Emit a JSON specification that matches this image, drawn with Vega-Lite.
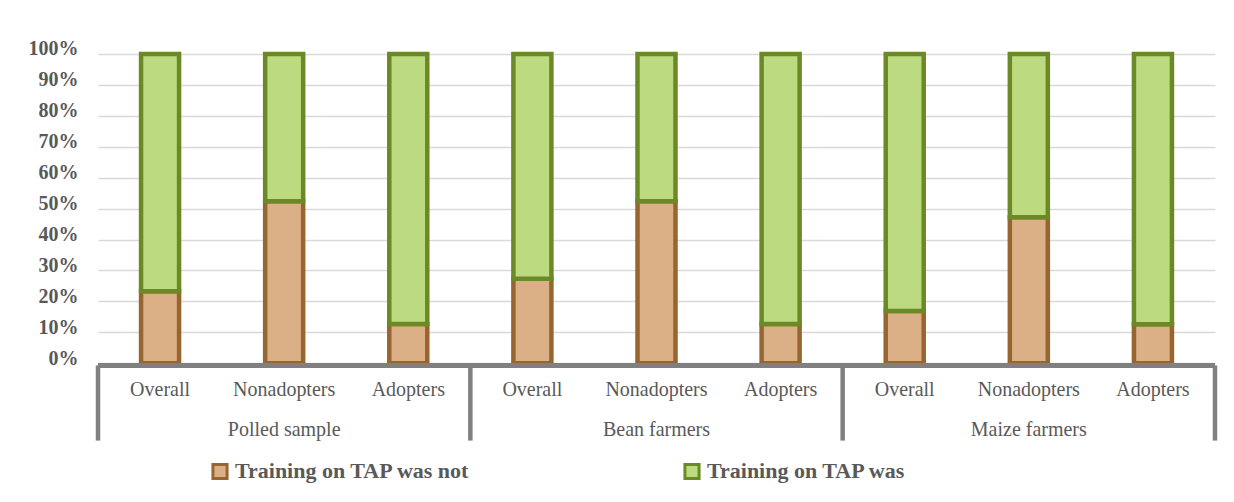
{
  "$schema": "https://vega.github.io/schema/vega-lite/v6.json",
  "width": 1117,
  "height": 386.6,
  "autosize": {"type": "none"},
  "padding": {"left": 98, "top": 54, "right": 19, "bottom": 61},
  "background": "white",
  "config": {"view": {"stroke": null}, "font": "Liberation Serif"},
  "datasets": {
    "bars": [
      {"cat": "P-Overall", "series": "Training on TAP was not", "ord": 0, "value": 0.233},
      {"cat": "P-Nonadopters", "series": "Training on TAP was not", "ord": 0, "value": 0.524},
      {"cat": "P-Adopters", "series": "Training on TAP was not", "ord": 0, "value": 0.127},
      {"cat": "B-Overall", "series": "Training on TAP was not", "ord": 0, "value": 0.273},
      {"cat": "B-Nonadopters", "series": "Training on TAP was not", "ord": 0, "value": 0.524},
      {"cat": "B-Adopters", "series": "Training on TAP was not", "ord": 0, "value": 0.127},
      {"cat": "M-Overall", "series": "Training on TAP was not", "ord": 0, "value": 0.169},
      {"cat": "M-Nonadopters", "series": "Training on TAP was not", "ord": 0, "value": 0.472},
      {"cat": "M-Adopters", "series": "Training on TAP was not", "ord": 0, "value": 0.126},
      {"cat": "P-Overall", "series": "Training on TAP was", "ord": 1, "value": 0.767},
      {"cat": "P-Nonadopters", "series": "Training on TAP was", "ord": 1, "value": 0.476},
      {"cat": "P-Adopters", "series": "Training on TAP was", "ord": 1, "value": 0.873},
      {"cat": "B-Overall", "series": "Training on TAP was", "ord": 1, "value": 0.727},
      {"cat": "B-Nonadopters", "series": "Training on TAP was", "ord": 1, "value": 0.476},
      {"cat": "B-Adopters", "series": "Training on TAP was", "ord": 1, "value": 0.873},
      {"cat": "M-Overall", "series": "Training on TAP was", "ord": 1, "value": 0.831},
      {"cat": "M-Nonadopters", "series": "Training on TAP was", "ord": 1, "value": 0.528},
      {"cat": "M-Adopters", "series": "Training on TAP was", "ord": 1, "value": 0.874}
    ],
    "cats": [
      {"cat": "P-Overall", "sub": "Overall"},
      {"cat": "P-Nonadopters", "sub": "Nonadopters"},
      {"cat": "P-Adopters", "sub": "Adopters"},
      {"cat": "B-Overall", "sub": "Overall"},
      {"cat": "B-Nonadopters", "sub": "Nonadopters"},
      {"cat": "B-Adopters", "sub": "Adopters"},
      {"cat": "M-Overall", "sub": "Overall"},
      {"cat": "M-Nonadopters", "sub": "Nonadopters"},
      {"cat": "M-Adopters", "sub": "Adopters"}
    ],
    "groups": [
      {"cat": "P-Nonadopters", "group": "Polled sample"},
      {"cat": "B-Nonadopters", "group": "Bean farmers"},
      {"cat": "M-Nonadopters", "group": "Maize farmers"}
    ],
    "sepsLeft": [
      {"cat": "P-Overall"},
      {"cat": "B-Overall"},
      {"cat": "M-Overall"}
    ],
    "sepsRight": [
      {"cat": "M-Adopters"}
    ]
  },
  "layer": [
    {
      "data": {"name": "bars"},
      "mark": {"type": "bar", "size": 38, "strokeWidth": 4.5},
      "encoding": {
        "x": {
          "field": "cat", "type": "nominal", "axis": null,
          "scale": {
            "domain": ["P-Overall", "P-Nonadopters", "P-Adopters", "B-Overall", "B-Nonadopters", "B-Adopters", "M-Overall", "M-Nonadopters", "M-Adopters"],
            "paddingInner": 0, "paddingOuter": 0
          }
        },
        "y": {
          "field": "value", "type": "quantitative", "stack": "zero",
          "scale": {"domain": [-0.25, 1], "nice": false, "zero": false},
          "axis": {
            "values": [0, 0.1, 0.2, 0.3, 0.4, 0.5, 0.6, 0.7, 0.8, 0.9, 1],
            "format": ".0%", "title": null, "grid": true, "gridColor": "#d9d9d9", "gridWidth": 1.3,
            "domain": false, "ticks": false, "labelPadding": 20, "labelOffset": -5, "labelOverlap": false,
            "labelFont": "Liberation Serif", "labelFontSize": 20, "labelFontWeight": "bold", "labelColor": "#595959"
          }
        },
        "color": {
          "field": "series", "type": "nominal",
          "scale": {"domain": ["Training on TAP was not", "Training on TAP was"], "range": ["#dcb087", "#bcdb80"]},
          "legend": {
            "orient": "none", "legendX": 111, "legendY": 406, "direction": "horizontal", "columns": 2, "columnPadding": 207,
            "title": null, "symbolType": "square", "symbolSize": 200, "symbolStrokeWidth": 3, "symbolOpacity": 1,
            "labelFont": "Liberation Serif", "labelFontSize": 22, "labelFontWeight": "bold", "labelColor": "#595959", "labelLimit": 0, "labelOffset": 4
          }
        },
        "stroke": {
          "field": "series", "type": "nominal",
          "scale": {"domain": ["Training on TAP was not", "Training on TAP was"], "range": ["#976530", "#6b8a26"]},
          "legend": {
            "orient": "none", "legendX": 111, "legendY": 406, "direction": "horizontal", "columns": 2, "columnPadding": 207,
            "title": null, "symbolType": "square", "symbolSize": 200, "symbolStrokeWidth": 3, "symbolOpacity": 1,
            "labelFont": "Liberation Serif", "labelFontSize": 22, "labelFontWeight": "bold", "labelColor": "#595959", "labelLimit": 0, "labelOffset": 4
          }
        },
        "order": {"field": "ord", "type": "quantitative"}
      }
    },
    {
      "data": {"name": "bars"},
      "mark": {"type": "rule", "color": "#808080", "strokeWidth": 4.5},
      "encoding": {"y": {"datum": -0.007, "type": "quantitative", "axis": {
            "values": [0, 0.1, 0.2, 0.3, 0.4, 0.5, 0.6, 0.7, 0.8, 0.9, 1],
            "format": ".0%", "title": null, "grid": true, "gridColor": "#d9d9d9", "gridWidth": 1.3,
            "domain": false, "ticks": false, "labelPadding": 20, "labelOffset": -5, "labelOverlap": false,
            "labelFont": "Liberation Serif", "labelFontSize": 20, "labelFontWeight": "bold", "labelColor": "#595959"
          }}}
    },
    {
      "data": {"name": "sepsLeft"},
      "mark": {"type": "rule", "color": "#808080", "strokeWidth": 4.5},
      "encoding": {
        "x": {"field": "cat", "type": "nominal", "bandPosition": 0},
        "y": {"datum": -0.007, "type": "quantitative", "axis": {
            "values": [0, 0.1, 0.2, 0.3, 0.4, 0.5, 0.6, 0.7, 0.8, 0.9, 1],
            "format": ".0%", "title": null, "grid": true, "gridColor": "#d9d9d9", "gridWidth": 1.3,
            "domain": false, "ticks": false, "labelPadding": 20, "labelOffset": -5, "labelOverlap": false,
            "labelFont": "Liberation Serif", "labelFontSize": 20, "labelFontWeight": "bold", "labelColor": "#595959"
          }},
        "y2": {"datum": -0.25}
      }
    },
    {
      "data": {"name": "sepsRight"},
      "mark": {"type": "rule", "color": "#808080", "strokeWidth": 4.5},
      "encoding": {
        "x": {"field": "cat", "type": "nominal", "bandPosition": 1},
        "y": {"datum": -0.007, "type": "quantitative", "axis": {
            "values": [0, 0.1, 0.2, 0.3, 0.4, 0.5, 0.6, 0.7, 0.8, 0.9, 1],
            "format": ".0%", "title": null, "grid": true, "gridColor": "#d9d9d9", "gridWidth": 1.3,
            "domain": false, "ticks": false, "labelPadding": 20, "labelOffset": -5, "labelOverlap": false,
            "labelFont": "Liberation Serif", "labelFontSize": 20, "labelFontWeight": "bold", "labelColor": "#595959"
          }},
        "y2": {"datum": -0.25}
      }
    },
    {
      "data": {"name": "cats"},
      "mark": {"type": "text", "font": "Liberation Serif", "fontSize": 20, "color": "#595959", "baseline": "middle"},
      "encoding": {
        "x": {"field": "cat", "type": "nominal"},
        "y": {"datum": -0.086, "type": "quantitative", "axis": {
            "values": [0, 0.1, 0.2, 0.3, 0.4, 0.5, 0.6, 0.7, 0.8, 0.9, 1],
            "format": ".0%", "title": null, "grid": true, "gridColor": "#d9d9d9", "gridWidth": 1.3,
            "domain": false, "ticks": false, "labelPadding": 20, "labelOffset": -5, "labelOverlap": false,
            "labelFont": "Liberation Serif", "labelFontSize": 20, "labelFontWeight": "bold", "labelColor": "#595959"
          }},
        "text": {"field": "sub"}
      }
    },
    {
      "data": {"name": "groups"},
      "mark": {"type": "text", "font": "Liberation Serif", "fontSize": 20, "color": "#595959", "baseline": "middle"},
      "encoding": {
        "x": {"field": "cat", "type": "nominal"},
        "y": {"datum": -0.216, "type": "quantitative", "axis": {
            "values": [0, 0.1, 0.2, 0.3, 0.4, 0.5, 0.6, 0.7, 0.8, 0.9, 1],
            "format": ".0%", "title": null, "grid": true, "gridColor": "#d9d9d9", "gridWidth": 1.3,
            "domain": false, "ticks": false, "labelPadding": 20, "labelOffset": -5, "labelOverlap": false,
            "labelFont": "Liberation Serif", "labelFontSize": 20, "labelFontWeight": "bold", "labelColor": "#595959"
          }},
        "text": {"field": "group"}
      }
    }
  ]
}
